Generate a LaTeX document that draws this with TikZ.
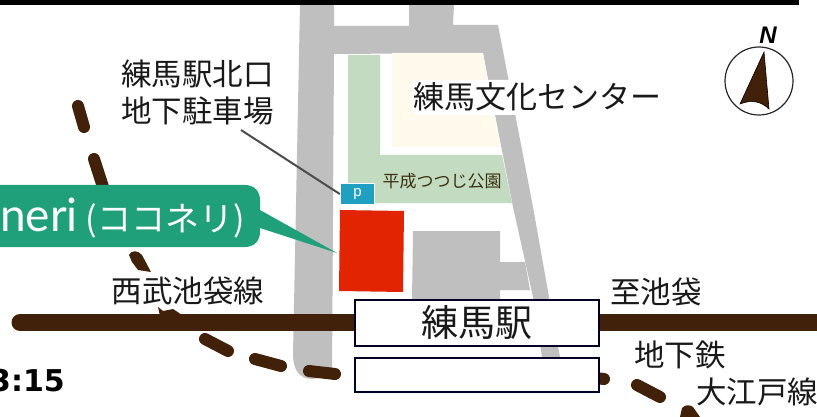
\documentclass[tikz,border=0pt]{standalone}
\usepackage{fontspec}
\setmainfont{Liberation Sans}
\newfontfamily\cjk{Noto Sans CJK JP}
\newfontfamily\latof{Lato}
\newfontfamily\dejab{DejaVu Sans}
\definecolor{roadgray}{HTML}{BFBFBF}
\definecolor{parkgreen}{HTML}{C3DCC1}
\definecolor{beige}{HTML}{FFFAEC}
\definecolor{track}{HTML}{42210B}
\definecolor{callout}{HTML}{20A07A}
\definecolor{redbox}{HTML}{E32400}
\definecolor{pblue}{HTML}{1FA0C0}
\definecolor{olive}{HTML}{3A3010}
\tikzset{
  road/.style={fill=roadgray,draw=none},
  dashseg/.style={draw=track,line width=12pt,line cap=round},
  mainline/.style={draw=track,line width=17pt},
  stationbox/.style={draw=black!85!blue,fill=white,line width=1.5pt},
  lbl/.style={inner sep=0pt,font=\cjk\fontsize{30.5}{30.5}\selectfont,text=black!90},
}
\begin{document}
\begin{tikzpicture}[x=1pt,y=-1pt]
\useasboundingbox (0,0) rectangle (817,417);
\fill[white] (0,0) rectangle (817,417);
% roads
\path[road] (300,5) -- (334,5) -- (334,26) -- (409,26) -- (409,5) -- (454,5) -- (453,25) -- (498,25) -- (533,207) -- (549,297) -- (560,357) -- (542,357) -- (533,297) -- (513,207) -- (483,53) -- (334,54) -- (332,376) -- (312,379) .. controls (300,379) and (293,370) .. (293,355) -- cycle;
% park
\fill[parkgreen] (348,55) -- (380,55) -- (380,155) -- (502,155) -- (512,203) -- (348,203) -- cycle;
\fill[beige] (392,53) -- (483,53) -- (500,147) -- (392,147) -- cycle;
% building
\path[road] (413,231) -- (500,231) -- (500,262) -- (525,262) -- (530,290) -- (500,290) -- (500,301) -- (412,301) -- cycle;
% red
\fill[redbox] (340,210) -- (404,211) -- (403,292) -- (339,291) -- cycle;
% parking
\node[fill=pblue,draw=white,line width=1.5pt,minimum width=34pt,minimum height=21pt,inner sep=0pt,text=white,font=\fontsize{15}{15}\selectfont] (park) at (357.5,194) {p};
% leader
\coordinate (leadstart) at (241,130);
\draw[black!70,line width=2pt] (leadstart) -- (park.west);
% dashes
\draw[dashseg] (78,106) -- (84,127);
\draw[dashseg] (94,159) -- (104,190);
\fill[track] (129,255) .. controls (131,250) and (138,250) .. (142,255) -- (151,272) -- (138,270) -- (132,262) -- cycle;
\fill[track] (158,307) -- (163,311) -- (173,309) -- (182,315) -- (160,316) -- cycle;
\draw[dashseg] (205,339) -- (228,351);
\draw[dashseg] (255,359) -- (281,366);
\draw[dashseg] (309,371) -- (335,374);
\draw[dashseg] (595,378) -- (604,379);
\draw[dashseg] (637,385) -- (660,397);
\fill[track] (680,417) -- (682,408) .. controls (686,404) and (690,405) .. (693,407) -- (700,417) -- cycle;
% main line
\draw[mainline,line cap=round] (20,322.5) -- (355,322.5);
\draw[mainline] (599,322.5) -- (817,322.5);
% stations
\node[stationbox,minimum width=244pt,minimum height=46pt,inner sep=0pt,font=\cjk\fontsize{37}{37}\selectfont,text=black!90] (st1) at (477,323) {練馬駅};
\node[stationbox,minimum width=244pt,minimum height=34pt,inner sep=0pt] (st2) at (477,375) {};
% callout
\fill[callout] (-20,185) -- (245,185) .. controls (254,185) and (260,191) .. (260,200) -- (260,210) -- (337,253) -- (260,228) -- (260,232) .. controls (260,241) and (254,247) .. (245,247) -- (-20,247) -- cycle;
\node[anchor=base west,inner sep=0pt,text=white] (cn) at (0,231) {{\latof\fontsize{46}{46}\selectfont neri}\kern8pt{\cjk\fontsize{34}{34}\selectfont (ココネリ)}};
% labels
\fill[white,rounded corners=6pt] (412,80) rectangle (521,115);
\node[lbl,font=\cjk\fontsize{31}{31}\selectfont] (bunka) at (537,97) {練馬文化センター};
\node[lbl,align=center] (kita) at (197.5,92) {練馬駅北口\\[6.5pt]地下駐車場};
\node[inner sep=0pt,font=\cjk\fontsize{17}{17}\selectfont,text=olive] (tsutsuji) at (442,181) {平成つつじ公園};
\node[lbl] (seibu) at (188,291) {西武池袋線};
\node[lbl] (ike) at (656,292) {至池袋};
\node[lbl] (chika) at (680,355) {地下鉄};
\node[lbl] (oedo) at (757,392) {大江戸線};
\node[anchor=base east,inner sep=0pt,font=\dejab\bfseries\fontsize{30}{30}\selectfont,text=black] (time) at (65,391) {3:15};
% compass
\draw[black!85,line width=1.2pt,fill=white] (759,81) circle (34);
\fill[track,draw=black,line width=.6pt] (764,52) -- (769,109) .. controls (762,102) and (752,99) .. (740,104) -- cycle;
\node[inner sep=0pt,font=\bfseries\itshape\fontsize{24}{24}\selectfont] (north) at (768,35.5) {N};
% top bar
\fill[black] (0,0) rectangle (799,5);
\end{tikzpicture}
\end{document}
